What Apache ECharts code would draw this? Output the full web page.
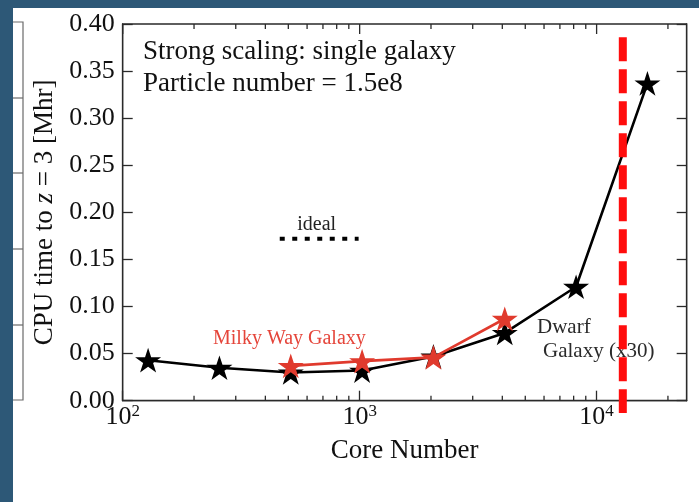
<!DOCTYPE html>
<html><head><meta charset="utf-8">
<script src="https://cdn.jsdelivr.net/npm/echarts@6/dist/echarts.min.js"></script>
<style>html,body{margin:0;padding:0;background:#fff}#c{width:699px;height:502px}</style>
</head><body><div id="c"></div>
<script>
// ---- data ----
const coreNumbers = [128, 256, 512, 1024, 2048, 4096, 8192, 16384];
const dwarfCpuTime = [0.043, 0.035, 0.030, 0.032, 0.047, 0.072, 0.121, 0.337];
const milkyWayCores = [512, 1024, 2048, 4096];
const milkyWayCpuTime = [0.037, 0.042, 0.046, 0.087];
const idealCores = [460, 990];
const idealCpuTime = [0.172, 0.172];
const limitCores = [12900, 12900];
const limitCpuTime = [0.386, -0.013];
const yTickLabels = ['0.00', '0.05', '0.10', '0.15', '0.20', '0.25', '0.30', '0.35', '0.40'];
const xMajorTicks = [100, 1000, 10000];
const xMinorTicks = [200, 300, 400, 500, 600, 700, 800, 900, 2000, 3000, 4000, 5000, 6000, 7000, 8000, 9000, 20000];
const xMin = 100, xMax = 24000;
const yMin = 0, yMax = 0.4;

const FONT = 'Liberation Serif';
const AX = '#2a2a2a';
const STAR = 'path://M50 0 L61.2 34.5 L97.6 34.5 L68.2 55.9 L79.4 90.5 L50 69.1 L20.6 90.5 L31.8 55.9 L2.4 34.5 L38.8 34.5 Z';
const GRID = { left: 122.7, right: 12.3, top: 24, bottom: 101.3 };
const PLOT_H = 502 - GRID.top - GRID.bottom;

const zip = (a, b) => a.map((v, i) => [v, b[i]]);
const lg = Math.log10;
const tickLine = { color: AX, width: 1.3 };

// extra x tick marks: short vertical line segments placed through the log x scale
function tickSeries(values, atTop, lenPx) {
  const h = (yMax - yMin) * lenPx / PLOT_H;
  return values.map(v => ({
    type: 'line', xAxisIndex: 0, yAxisIndex: 0, clip: false, silent: true, z: 5,
    data: atTop ? [[v, yMax], [v, yMax - h]] : [[v, yMin], [v, yMin + h]],
    showSymbol: false, symbol: 'none',
    lineStyle: { color: AX, width: 1.3 }, emphasis: { disabled: true }
  }));
}

const chart = echarts.init(document.getElementById('c'));
chart.setOption({
  backgroundColor: '#ffffff',
  animation: false,
  grid: Object.assign({ containLabel: false, show: true, borderColor: AX, borderWidth: 1.3, backgroundColor: 'transparent' }, GRID),
  xAxis: [
    {
      type: 'log', logBase: 10, min: xMin, max: xMax, position: 'bottom',
      name: 'Core Number', nameLocation: 'middle', nameGap: 37,
      nameTextStyle: { fontFamily: FONT, fontSize: 27, color: '#111' },
      axisLine: { show: true, lineStyle: tickLine },
      axisTick: { show: true, inside: true, length: 10, lineStyle: tickLine },
      splitLine: { show: false },
      axisLabel: {
        margin: 2, showMaxLabel: false,
        formatter: function (v) {
          const e = Math.round(lg(v));
          if (Math.abs(lg(v) - e) > 1e-6 || xMajorTicks.indexOf(Math.pow(10, e)) < 0) return '';
          return '{b|10}{s|' + e + '}';
        },
        rich: {
          b: { fontFamily: FONT, fontSize: 26, color: '#111', lineHeight: 28 },
          s: { fontFamily: FONT, fontSize: 17, color: '#111', verticalAlign: 'top', lineHeight: 28, padding: [0, 0, 10, 0] }
        }
      }
    }
  ],
  yAxis: [
    {
      type: 'value', min: yMin, max: yMax, interval: 0.05, position: 'left',
      name: 'CPU time to {i|z} = 3 [Mhr]', nameLocation: 'middle', nameGap: 64, nameRotate: 90,
      nameTextStyle: {
        fontFamily: FONT, fontSize: 27, color: '#111',
        rich: { i: { fontFamily: FONT, fontSize: 27, fontStyle: 'italic', color: '#111' } }
      },
      axisLine: { show: true, lineStyle: tickLine },
      axisTick: { show: true, inside: true, length: 10, lineStyle: tickLine },
      splitLine: { show: false },
      axisLabel: {
        margin: 8, fontFamily: FONT, fontSize: 26, color: '#111',
        formatter: function (v) { return yTickLabels[Math.round(v / 0.05)]; }
      }
    },
    {
      type: 'value', min: yMin, max: yMax, interval: 0.05, position: 'right',
      axisLine: { show: true, lineStyle: tickLine },
      axisTick: { show: true, inside: true, length: 10, lineStyle: tickLine },
      axisLabel: { show: false }, splitLine: { show: false }
    }
  ],
  series: [].concat(
    tickSeries(xMinorTicks, false, 5),
    tickSeries(xMajorTicks, true, 10),
    tickSeries(xMinorTicks, true, 5),
    [
      {
        name: 'Dwarf Galaxy (x30)', type: 'line', xAxisIndex: 0, yAxisIndex: 0,
        data: zip(coreNumbers, dwarfCpuTime),
        symbol: STAR, symbolSize: 26, symbolKeepAspect: true,
        itemStyle: { color: '#000' }, lineStyle: { color: '#000', width: 2.6 }, z: 3
      },
      {
        name: 'Milky Way Galaxy', type: 'line', xAxisIndex: 0, yAxisIndex: 0,
        data: zip(milkyWayCores, milkyWayCpuTime),
        symbol: STAR, symbolSize: 26, symbolKeepAspect: true,
        itemStyle: { color: '#e03a2d' }, lineStyle: { color: '#e03a2d', width: 2.6 }, z: 4
      },
      {
        name: 'ideal', type: 'line', xAxisIndex: 0, yAxisIndex: 0,
        data: zip(idealCores, idealCpuTime), showSymbol: false, symbol: 'none',
        lineStyle: { color: '#000', width: 4, type: [5, 7.5], cap: 'butt' }, z: 3
      },
      {
        name: 'limit', type: 'line', xAxisIndex: 0, yAxisIndex: 0, clip: false,
        data: zip(limitCores, limitCpuTime), showSymbol: false, symbol: 'none',
        lineStyle: { color: '#ff0d0d', width: 8, type: [24, 8], cap: 'butt' }, z: 6
      }
    ]
  ),
  graphic: [
    { type: 'rect', z: 100, shape: { x: 0, y: 0, width: 699, height: 8 }, style: { fill: '#2d5877' } },
    { type: 'rect', z: 100, shape: { x: 0, y: 0, width: 13, height: 502 }, style: { fill: '#2d5877' } },
    { type: 'polyline', z: 1, shape: { points: [[13, 22], [23, 22], [23, 400], [13, 400]] }, style: { stroke: '#6a6a6a', lineWidth: 1.2, fill: null } },
    { type: 'line', z: 1, shape: { x1: 13, y1: 98, x2: 23, y2: 98 }, style: { stroke: '#6a6a6a', lineWidth: 1.2 } },
    { type: 'line', z: 1, shape: { x1: 13, y1: 173, x2: 23, y2: 173 }, style: { stroke: '#6a6a6a', lineWidth: 1.2 } },
    { type: 'line', z: 1, shape: { x1: 13, y1: 249, x2: 23, y2: 249 }, style: { stroke: '#6a6a6a', lineWidth: 1.2 } },
    { type: 'line', z: 1, shape: { x1: 13, y1: 325, x2: 23, y2: 325 }, style: { stroke: '#6a6a6a', lineWidth: 1.2 } },
    { type: 'text', z: 1, x: 143, y: 52, style: { text: 'Strong scaling: single galaxy', fontFamily: FONT, fontSize: 27, fill: '#111', verticalAlign: 'middle', align: 'left' } },
    { type: 'text', z: 1, x: 143, y: 84, style: { text: 'Particle number = 1.5e8', fontFamily: FONT, fontSize: 27, fill: '#111', verticalAlign: 'middle', align: 'left' } },
    { type: 'text', z: 1, x: 316.7, y: 225, style: { text: 'ideal', fontFamily: FONT, fontSize: 20, fill: '#222', verticalAlign: 'middle', align: 'center' } },
    { type: 'text', z: 1, x: 213, y: 338.5, style: { text: 'Milky Way Galaxy', fontFamily: FONT, fontSize: 20, fill: '#e5453a', verticalAlign: 'middle', align: 'left' } },
    { type: 'text', z: 1, x: 537, y: 327.5, style: { text: 'Dwarf', fontFamily: FONT, fontSize: 21, fill: '#2a2a2a', verticalAlign: 'middle', align: 'left' } },
    { type: 'text', z: 1, x: 543, y: 351, style: { text: 'Galaxy (x30)', fontFamily: FONT, fontSize: 21, fill: '#2a2a2a', verticalAlign: 'middle', align: 'left' } }
  ]
});
</script>
</body></html>
